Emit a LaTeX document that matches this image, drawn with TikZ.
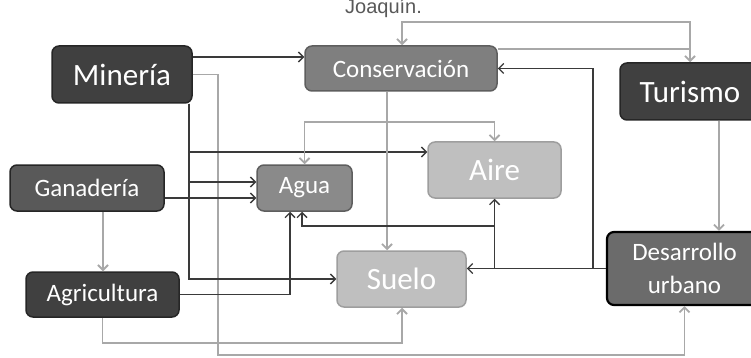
\documentclass[tikz,border=0pt]{standalone}
\usepackage{fontspec}
\setmainfont{Carlito}
\newfontfamily\arialf{Liberation Sans}
\usetikzlibrary{arrows.meta}
\definecolor{dkline}{HTML}{3A3A3A}
\definecolor{ltline}{HTML}{A8A8A8}
\definecolor{fdark}{HTML}{404040}
\definecolor{fgan}{HTML}{595959}
\definecolor{fmid}{HTML}{7F7F7F}
\definecolor{fagua}{HTML}{8A8A8A}
\definecolor{fdes}{HTML}{6B6B6B}
\definecolor{flight}{HTML}{BFBFBF}
\definecolor{bdark}{HTML}{262626}
\definecolor{bmid}{HTML}{5E5E5E}
\definecolor{blight}{HTML}{9E9E9E}
\tikzset{
  box/.style={rounded corners=7pt, draw, line width=1.5pt, inner sep=0pt, text=white, align=center},
  bigtxt/.style={font=\fontsize{31pt}{36pt}\selectfont},
  smalltxt/.style={font=\fontsize{25pt}{29pt}\selectfont},
  dk/.style={draw=dkline, line width=1.4pt, -{Straight Barb[length=5pt,width=10pt]}},
  lt/.style={draw=ltline, line width=1.8pt, -{Straight Barb[length=5pt,width=10pt]}},
  ltn/.style={draw=ltline, line width=1.8pt},
}
\begin{document}
\begin{tikzpicture}[x=1pt,y=-1pt]
\clip (0,0) rectangle (751,358);
\fill[white] (0,0) rectangle (751,358);
% nodes
\node[box, bigtxt, fill=fdark, draw=bdark, minimum width=140pt, minimum height=57pt] (min) at (122,74.5) {Minería};
\node[box, smalltxt, fill=fmid, draw=bmid, minimum width=192pt, minimum height=45pt] (cons) at (401,68.5) {Conservación};
\node[box, bigtxt, fill=fdark, draw=bdark, minimum width=140pt, minimum height=57pt] (tur) at (690,91.5) {Turismo};
\node[box, bigtxt, fill=flight, draw=blight, minimum width=133pt, minimum height=56pt] (aire) at (494.5,170) {Aire};
\node[box, smalltxt, fill=fagua, draw=bmid, minimum width=95pt, minimum height=46pt] (agua) at (304.5,188) {Agua};
\node[box, smalltxt, fill=fgan, draw=bdark, minimum width=154pt, minimum height=46pt] (gan) at (87,188) {Ganadería};
\node[box, smalltxt, fill=fdark, draw=bdark, minimum width=153pt, minimum height=45pt] (agr) at (102.5,294.5) {Agricultura};
\node[box, bigtxt, fill=flight, draw=blight, minimum width=129pt, minimum height=56pt] (suelo) at (401.5,279) {Suelo};
\node[box, font=\fontsize{25pt}{33pt}\selectfont, fill=fdes, draw=black, line width=2.2pt, minimum width=155pt, minimum height=73pt] (des) at (684.5,268.5) {Desarrollo\\urbano};
\node[anchor=base west, inner sep=0pt, text=fgan, font=\arialf\fontsize{20pt}{24pt}\selectfont] (jq) at (345,14) {Joaquín.};
% connectors
\draw[dk] (min.east |- 0,57) -- (cons.west |- 0,57);
\draw[lt] (min.east) -| (218,355) -| (des.south);
\draw[dk] (min.south -| 189,0) |- (aire.west |- 0,152);
\draw[dk] (min.south -| 189,0) |- (agua.west |- 0,182);
\draw[dk] (min.south -| 189,0) |- (suelo.west);
\draw[dk] (gan.east |- 0,198) -- (agua.west |- 0,198);
\draw[lt] (cons.south -| 387,0) -- (suelo.north -| 387,0);
\draw[lt,{Straight Barb[length=5pt,width=10pt]}-{Straight Barb[length=5pt,width=10pt]}] (cons.north -| 402,0) |- (tur.north |- 0,22) -- (tur.north);
\draw[ltn] (cons.east |- 0,49) -- (tur.north |- 0,49);
\draw[dk] (des.west) -- (593,268.5) |- (cons.east);
\draw[dk] (des.west) -- (suelo.east |- des.west);
\draw[dk] (aire.south |- des.west) -- (aire.south);
\draw[dk] (aire.south |- 0,226) -| (agua.south -| 302,0);
\draw[dk] (agr.east) -| (agua.south -| 290,0);
\draw[lt] (agr.south) |- (suelo.south |- 0,343) -| (suelo.south -| 402,0);
\draw[lt] (gan.south -| 103,0) -- (agr.north -| 103,0);
\draw[lt,{Straight Barb[length=5pt,width=10pt]}-{Straight Barb[length=5pt,width=10pt]}] (agua.north) |- (aire.north |- 0,122) -- (aire.north);
\draw[lt] (tur.south -| 719,0) -- (des.north -| 719,0);
\end{tikzpicture}
\end{document}
